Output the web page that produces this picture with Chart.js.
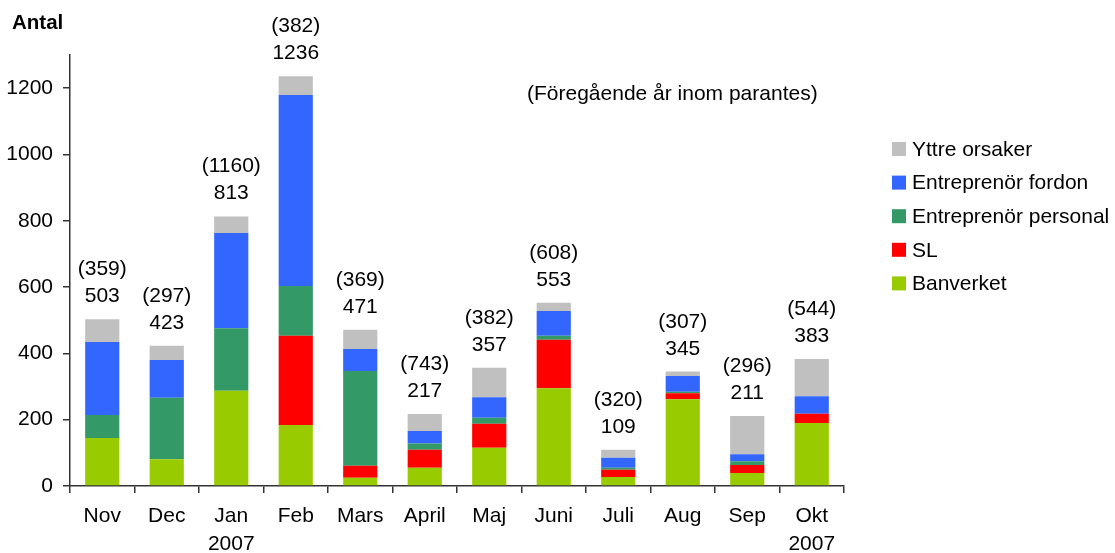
<!DOCTYPE html>
<html>
<head>
<meta charset="utf-8">
<script src="https://cdn.jsdelivr.net/npm/chart.js@4"></script>
<style>
  html, body { margin: 0; padding: 0; background: #fff; }
  #wrap { width: 1115px; height: 553px; position: relative; }
</style>
</head>
<body>
<div id="wrap"><canvas id="chart" width="1115" height="553"></canvas></div>
<script>
const months = [['Nov'], ['Dec'], ['Jan', '2007'], ['Feb'], ['Mars'], ['April'], ['Maj'], ['Juni'], ['Juli'], ['Aug'], ['Sep'], ['Okt', '2007']];
const banverket = [145, 81, 287, 184, 25, 55, 115, 295, 27, 262, 39, 190];
const sl = [0, 0, 0, 269, 36, 54, 73, 146, 22, 18, 24, 28];
const personal = [69, 185, 189, 150, 286, 19, 18, 12, 6, 4, 12, 0];
const fordon = [220, 114, 287, 576, 66, 38, 62, 75, 30, 48, 21, 53];
const yttre = [69, 43, 50, 57, 58, 51, 89, 25, 24, 13, 115, 112];
const previousYear = [359, 297, 1160, 382, 369, 743, 382, 608, 320, 307, 296, 544];
const yTicks = [0, 200, 400, 600, 800, 1000, 1200];

const FONT = '"Liberation Sans", Arial, sans-serif';

document.addEventListener('DOMContentLoaded', () => {
    const ctx = document.getElementById('chart').getContext('2d');

    const totals = months.map((m, i) => banverket[i] + sl[i] + personal[i] + fordon[i] + yttre[i]);

    // labels above bars, title, note and legend
    const extras = {
        id: 'extras',
        afterDraw(chart) {
            const c = chart.ctx;
            const x = chart.scales.x;
            const y = chart.scales.y;
            c.save();
            c.fillStyle = '#000';
            c.textAlign = 'center';
            c.textBaseline = 'alphabetic';
            c.font = '21px ' + FONT;
            totals.forEach((t, i) => {
                const px = x.getPixelForValue(i);
                const top = y.getPixelForValue(t);
                c.fillText(String(t), px, top - 17);
                c.fillText('(' + previousYear[i] + ')', px, top - 44);
            });

            c.textAlign = 'left';
            c.font = 'bold 20.5px ' + FONT;
            c.fillText('Antal', 12, 29);

            c.font = '21px ' + FONT;
            c.fillText('(Föregående år inom parantes)', 527, 100);

            const items = chart.data.datasets.slice().reverse();
            items.forEach((ds, k) => {
                const cy = 149 + k * 33.6;
                c.fillStyle = ds.backgroundColor;
                c.fillRect(892, cy - 7, 14, 14);
                c.fillStyle = '#000';
                c.textBaseline = 'middle';
                c.fillText(ds.label, 912, cy + 1);
            });
            c.restore();
        }
    };

    new Chart(ctx, {
        type: 'bar',
        data: {
            labels: months,
            datasets: [
                { label: 'Banverket', data: banverket, backgroundColor: '#99CC00' },
                { label: 'SL', data: sl, backgroundColor: '#FF0000' },
                { label: 'Entreprenör personal', data: personal, backgroundColor: '#339966' },
                { label: 'Entreprenör fordon', data: fordon, backgroundColor: '#3366FF' },
                { label: 'Yttre orsaker', data: yttre, backgroundColor: '#C0C0C0' }
            ]
        },
        options: {
            responsive: false,
            animation: false,
            layout: { padding: { top: 55, right: 271, bottom: 0, left: 0 } },
            datasets: { bar: { categoryPercentage: 1, barPercentage: 0.53 } },
            plugins: {
                legend: { display: false },
                tooltip: { enabled: false }
            },
            scales: {
                x: {
                    stacked: true,
                    afterFit: s => { s.height = 67; },
                    border: { color: '#333', width: 1.5 },
                    grid: { drawOnChartArea: false, tickLength: 7, color: '#333', lineWidth: 1.5 },
                    ticks: {
                        color: '#000',
                        padding: 9,
                        font: { family: FONT, size: 21, lineHeight: 1.33 }
                    }
                },
                y: {
                    stacked: true,
                    min: 0,
                    max: 1300,
                    afterFit: s => { s.width = 70; },
                    afterBuildTicks: s => { s.ticks = yTicks.map(v => ({ value: v })); },
                    border: { color: '#333', width: 1.5 },
                    grid: { drawOnChartArea: false, tickLength: 7, color: '#333', lineWidth: 1.5 },
                    ticks: {
                        color: '#000',
                        padding: 10,
                        callback: v => String(v),
                        font: { family: FONT, size: 21 }
                    }
                }
            }
        },
        plugins: [extras]
    });
});
</script>
</body>
</html>
